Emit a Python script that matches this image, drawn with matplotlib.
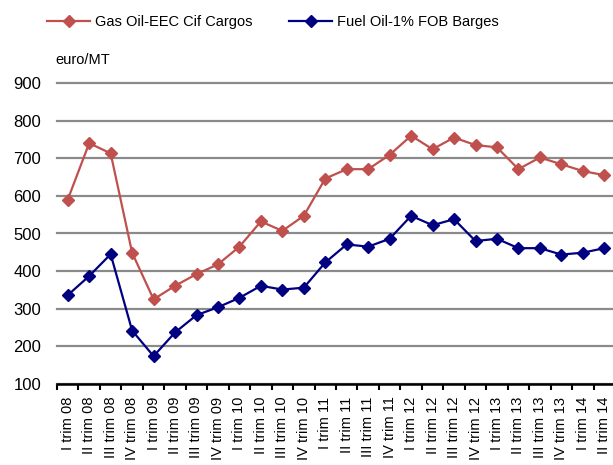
import numpy as np
import matplotlib
matplotlib.use("Agg")
import matplotlib.pyplot as plt
from matplotlib.lines import Line2D

plt.rcParams["font.family"] = ["Liberation Sans", "DejaVu Sans"]

# -------------------------------------------------------------------
# Data (euro/MT, quarterly)
# -------------------------------------------------------------------
quarters = ["I", "II", "III", "IV"]
years = ["08", "09", "10", "11", "12", "13", "14"]
labels = [f"{q} trim {y}" for y in years for q in quarters][:26]

gas_oil = [590, 740, 713, 449, 325, 361, 392, 418, 465, 532, 507, 547, 646,
           671, 671, 709, 760, 724, 755, 735, 729, 671, 702, 684, 666, 655]
fuel_oil = [336, 387, 445, 242, 174, 237, 283, 304, 329, 361, 351, 356, 423,
            471, 465, 486, 547, 522, 538, 480, 486, 461, 461, 444, 449, 461]

RED = "#C0504D"
BLUE = "#000080"

W, H = 613, 465
fig = plt.figure(figsize=(W / 100, H / 100), dpi=100)
ax = fig.add_axes([57 / W, 81 / H, (615 - 57) / W, 301 / H])

x = np.arange(len(labels))
ax.plot(x, gas_oil, color=RED, lw=1.6, marker="D", ms=6, zorder=3)
ax.plot(x, fuel_oil, color=BLUE, lw=1.6, marker="D", ms=6, zorder=3)

ax.set_xlim(-0.5, len(labels) - 0.5)
ax.set_ylim(100, 900)
ax.set_yticks(range(100, 901, 100))
ax.tick_params(axis="y", length=0, pad=11.5, labelsize=12)

ax.set_xticks(x)
ax.set_xticklabels(labels, rotation=90, fontsize=10.5)
ax.tick_params(axis="x", which="major", length=0, pad=9)
ax.set_xticks(np.arange(-0.5, len(labels), 1), minor=True)
ax.tick_params(axis="x", which="minor", length=4, width=1.5, direction="out")

for side in ["top", "right", "left"]:
    ax.spines[side].set_visible(False)
ax.spines["bottom"].set_linewidth(1.8)
ax.spines["bottom"].set_zorder(4)

ax.yaxis.grid(True, color="#8a8a8a", lw=1.6)
ax.set_axisbelow(True)
for gl in ax.get_ygridlines():
    gl.set_clip_on(False)

handles = [
    Line2D([], [], color=RED, lw=1.6, marker="D", ms=6),
    Line2D([], [], color=BLUE, lw=1.6, marker="D", ms=6),
]
fig.legend(handles, ["Gas Oil-EEC Cif Cargos", "Fuel Oil-1% FOB Barges"],
           loc="center left", bbox_to_anchor=(47 / W, 1 - 22 / H), ncol=2,
           frameon=False, borderpad=0, borderaxespad=0, fontsize=10.5,
           handlelength=2.95, handletextpad=0.35, columnspacing=2.5)

fig.text(55 / W, 1 - 60 / H, "euro/MT", fontsize=10.5, va="center", ha="left")

fig.savefig("out.png", dpi=100)
